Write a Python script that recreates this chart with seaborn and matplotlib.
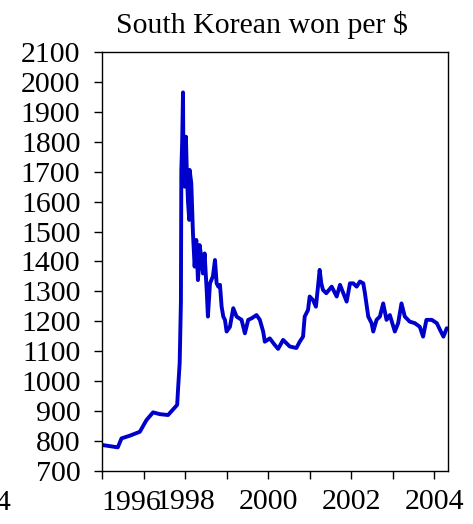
import numpy as np
import pandas as pd
import matplotlib
matplotlib.use("Agg")
import matplotlib.pyplot as plt
import seaborn as sns

# Exchange rate (decimal year, won per US$)
years = [
    1996.00, 1996.38, 1996.47, 1996.67, 1996.91, 1997.07, 1997.23, 1997.39,
    1997.59, 1997.81, 1997.83, 1997.87, 1997.90, 1997.91, 1997.93, 1997.95,
    1997.96, 1997.99, 1998.02, 1998.04, 1998.07, 1998.10, 1998.11, 1998.15,
    1998.19, 1998.23, 1998.27, 1998.31, 1998.34, 1998.35, 1998.40, 1998.43,
    1998.47, 1998.52, 1998.55, 1998.60, 1998.67, 1998.72, 1998.76, 1998.80,
    1998.84, 1998.88, 1998.92, 1998.96, 1999.00, 1999.08, 1999.16, 1999.24,
    1999.36, 1999.44, 1999.52, 1999.60, 1999.72, 1999.80, 1999.88, 1999.92,
    2000.04, 2000.16, 2000.24, 2000.36, 2000.52, 2000.68, 2000.76, 2000.84,
    2000.88, 2000.96, 2001.00, 2001.08, 2001.15, 2001.20, 2001.24, 2001.28,
    2001.32, 2001.40, 2001.53, 2001.65, 2001.73, 2001.81, 2001.89, 2001.97,
    2002.05, 2002.13, 2002.21, 2002.29, 2002.33, 2002.41, 2002.49, 2002.53,
    2002.61, 2002.69, 2002.77, 2002.85, 2002.93, 2003.05, 2003.13, 2003.21,
    2003.29, 2003.41, 2003.53, 2003.65, 2003.73, 2003.81, 2003.94, 2004.06,
    2004.14, 2004.22, 2004.30,
]
won = [
    787, 779, 809, 818, 831, 870, 896, 890,
    887, 921, 971, 1061, 1266, 1706, 1800, 1965,
    1740, 1650, 1817, 1711, 1600, 1539, 1706, 1661,
    1494, 1383, 1472, 1338, 1400, 1455, 1405, 1360,
    1427, 1305, 1216, 1327, 1350, 1405, 1327, 1316,
    1322, 1249, 1216, 1205, 1166, 1182, 1244, 1216,
    1205, 1160, 1205, 1210, 1221, 1205, 1166, 1132,
    1143, 1121, 1108, 1138, 1116, 1111, 1132, 1149,
    1216, 1238, 1283, 1271, 1249, 1316, 1372, 1327,
    1305, 1294, 1316, 1283, 1322, 1294, 1266, 1327,
    1327, 1316, 1333, 1327, 1294, 1216, 1194, 1166,
    1205, 1216, 1260, 1205, 1221, 1166, 1194, 1260,
    1216, 1199, 1194, 1182, 1149, 1205, 1205, 1194,
    1171, 1149, 1177,
]
title = "South Korean won per $"
year_ticks = list(range(1996, 2005))
year_labels = ["", "", "1998", "", "2000", "", "2002", "", "2004"]
y_ticks = list(range(700, 2101, 100))

df = pd.DataFrame({"year": years, "won": won})

sns.set_style("ticks")
plt.rcParams["font.family"] = ["Liberation Serif", "DejaVu Serif"]
plt.rcParams["text.color"] = "black"
fs = 21.5

fig = plt.figure(figsize=(4.73, 5.24), dpi=100)
ax = fig.add_axes([102 / 473, 1 - 471 / 524, 346 / 473, 419 / 524])

sns.lineplot(data=df, x="year", y="won", ax=ax, color="#0000CC",
             linewidth=2.8, sort=False, estimator=None)

ax.set_xlim(1996, 2004.33)
ax.set_ylim(700, 2100)
ax.set_xticks(year_ticks)
ax.set_xticklabels(year_labels)
ax.set_yticks(y_ticks)
ax.set_xlabel("")
ax.set_ylabel("")
ax.tick_params(axis="y", direction="out", length=6, width=1, pad=9.5,
               labelsize=fs, colors="black")
ax.tick_params(axis="x", direction="out", length=6, width=1, pad=7,
               labelsize=fs, colors="black")
for sp in ax.spines.values():
    sp.set_visible(True)
    sp.set_linewidth(1.0)
    sp.set_color("black")

# the 1996 label sits off its tick in the original, and a neighbour's label is cut at the edge
fig.text(131 / 473, 1 - 503 / 524, "1996", ha="center", va="center", fontsize=fs)
fig.text(11 / 473, 1 - 503 / 524, "1994", ha="right", va="center", fontsize=fs)

fig.text(262 / 473, 1 - 25 / 524, title, ha="center", va="center", fontsize=fs)

plt.savefig("out.png", dpi=100)
plt.close("all")
